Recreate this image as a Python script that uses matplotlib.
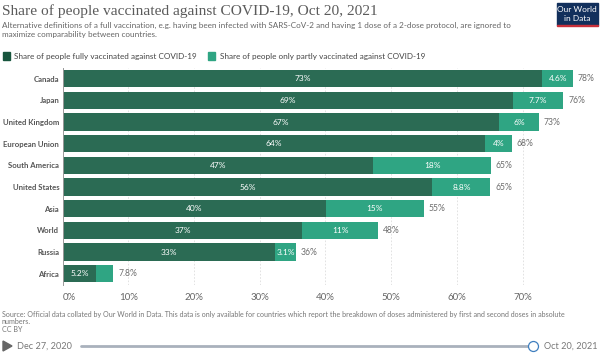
import matplotlib
matplotlib.use('Agg')
import matplotlib.pyplot as plt
import numpy as np

regions = ['Canada', 'Japan', 'United Kingdom', 'European Union', 'South America',
           'United States', 'Asia', 'World', 'Russia', 'Africa']
full_vals = [73.0, 68.6, 66.4, 64.3, 47.3, 56.3, 40.1, 36.5, 32.4, 5.1]
part_vals = [4.7, 7.6, 6.1, 4.1, 17.9, 8.8, 14.9, 11.5, 3.1, 2.6]
full_labels = ['73%', '69%', '67%', '64%', '47%', '56%', '40%', '37%', '33%', '5.2%']
part_labels = ['4.6%', '7.7%', '6%', '4%', '18%', '8.8%', '15%', '11%', '3.1%', '']
total_labels = ['78%', '76%', '73%', '68%', '65%', '65%', '55%', '48%', '36%', '7.8%']
ticks = [0, 10, 20, 30, 40, 50, 60, 70]

DARK = '#2b6b54'
LIGHT = '#2fa583'
GREY = '#6e6e6e'
W, H = 600, 356

plt.rcParams['font.family'] = ['Lato', 'DejaVu Sans']

fig = plt.figure(figsize=(6, 3.56), dpi=100)
ax = fig.add_axes([62.6 / W, 1 - 285 / H, (590 - 62.6) / W, 217 / H])

y = np.arange(len(regions))
ax.barh(y, full_vals, height=0.8, color=DARK, zorder=2)
ax.barh(y, part_vals, left=full_vals, height=0.8, color=LIGHT, zorder=2)

for i in y:
    ax.text(full_vals[i] / 2, i, full_labels[i], color='white', fontsize=6, ha='center', va='center', zorder=3)
    if part_labels[i]:
        ax.text(full_vals[i] + part_vals[i] / 2, i, part_labels[i], color='white', fontsize=6,
                ha='center', va='center', zorder=3)
    ax.text(full_vals[i] + part_vals[i] + 0.75, i, total_labels[i], color=GREY, fontsize=6.2,
            ha='left', va='center', zorder=3)

ax.set_xlim(0, (590 - 62.6) / 6.57)
ax.set_ylim(9.52, -0.5)
ax.set_yticks(y)
ax.set_yticklabels(regions, fontsize=5.6, fontweight='bold', color='#555555')
ax.set_xticks(ticks)
ax.set_xticklabels([f'{t}%' for t in ticks], fontsize=7, color='#666666')
ax.get_xticklabels()[0].set_ha('left')
ax.tick_params(axis='both', length=0)
ax.tick_params(axis='y', pad=2.5)
ax.tick_params(axis='x', pad=5.5)
ax.grid(axis='x', color='#dddddd', linestyle=(0, (2, 2)), linewidth=0.6, zorder=0)
ax.set_axisbelow(True)
for s in ['top', 'right', 'bottom']:
    ax.spines[s].set_visible(False)
ax.spines['left'].set_color('#999999')
ax.spines['left'].set_linewidth(0.7)

def t(px, py, s, **kw):
    fig.text(px / W, 1 - py / H, s, va='center', **kw)

t(2, 11, 'Share of people vaccinated against COVID-19, Oct 20, 2021', fontsize=11.1,
  family=['Liberation Serif', 'DejaVu Serif'], color='#5b5b5b')
t(2, 25, 'Alternative definitions of a full vaccination, e.g. having been infected with SARS-CoV-2 and having 1 dose of a 2-dose protocol, are ignored to',
  fontsize=5.9, color='#666666')
t(2, 34.5, 'maximize comparability between countries.', fontsize=5.9, color='#666666')

fig.patches.append(plt.Rectangle((3 / W, 1 - 60 / H), 7 / W, 7.5 / H, transform=fig.transFigure, color='#17553d'))
fig.patches.append(plt.Rectangle((208.5 / W, 1 - 60 / H), 7 / W, 7.5 / H, transform=fig.transFigure, color=LIGHT))
t(14, 56, 'Share of people fully vaccinated against COVID-19', fontsize=5.85, color='#444444')
t(220, 56, 'Share of people only partly vaccinated against COVID-19', fontsize=5.9, color='#444444')

# logo
fig.patches.append(plt.Rectangle((557 / W, 1 - 24.5 / H), 40.5 / W, 21.5 / H, transform=fig.transFigure, color='#12305c'))
fig.patches.append(plt.Rectangle((557 / W, 1 - 26 / H), 40.5 / W, 1.5 / H, transform=fig.transFigure, color='#c8303a'))
t(577.3, 9.3, 'Our World', fontsize=6, color='white', ha='center')
t(577.3, 18.3, 'in Data', fontsize=6, color='white', ha='center')

t(2, 314, 'Source: Official data collated by Our World in Data. This data is only available for countries which report the breakdown of doses administered by first and second doses in absolute',
  fontsize=5.1, color='#777777')
t(2, 321.7, 'numbers.', fontsize=5.1, color='#777777')
t(2, 329.5, 'CC BY', fontsize=5.1, color='#777777')

# time slider
fig.patches.append(plt.Polygon([(3 / W, 1 - 341 / H), (3 / W, 1 - 351 / H), (12 / W, 1 - 346 / H)],
                               transform=fig.transFigure, color='#666666'))
t(17, 346, 'Dec 27, 2020', fontsize=6.6, color='#777777')
t(543.5, 346, 'Oct 20, 2021', fontsize=6.6, color='#777777')
fig.add_artist(plt.Line2D([81 / W, 528 / W], [1 - 346.3 / H] * 2, color='#a9b1bc', linewidth=2, solid_capstyle='round'))
fig.add_artist(plt.Line2D([532.7 / W], [1 - 346.3 / H], marker='o', markersize=7.2, markerfacecolor='white',
                          markeredgecolor='#3f7fbf', markeredgewidth=0.9, linestyle='none'))

plt.savefig('out.png', dpi=100)
